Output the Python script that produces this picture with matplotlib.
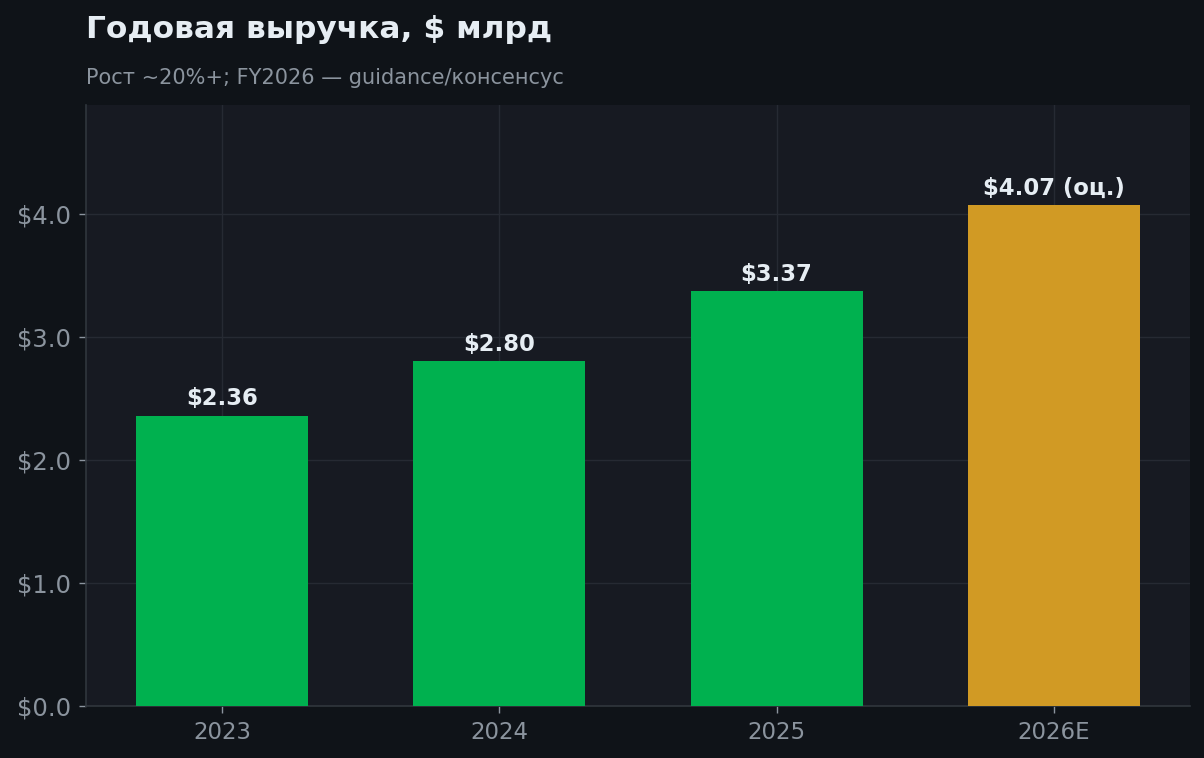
import matplotlib
matplotlib.use("Agg")
import matplotlib.pyplot as plt
from matplotlib.ticker import FuncFormatter, MultipleLocator

categories = ["2023", "2024", "2025", "2026E"]
revenue = [2.36, 2.80, 3.37, 4.07]
labels = ["$2.36", "$2.80", "$3.37", "$4.07 (оц.)"]
colors = ["#00b14f", "#00b14f", "#00b14f", "#d19a24"]

FIG_BG = "#0f1318"
AX_BG = "#171a22"
TEXT = "#e6edf3"
MUTED = "#8b949e"
GRID = "#262a33"
SPINE = "#30363d"

plt.rcParams['font.family'] = ['DejaVu Sans']

fig = plt.figure(figsize=(12.04, 7.58), dpi=100, facecolor=FIG_BG)
ax = fig.add_axes([86/1204, 1 - 706/758, (1190-86)/1204, (706-105)/758])
ax.set_facecolor(AX_BG)

x = range(len(categories))
bars = ax.bar(x, revenue, width=0.62, color=colors, zorder=3)
for b, lab in zip(bars, labels):
    ax.annotate(lab, (b.get_x() + b.get_width()/2, b.get_height()),
                xytext=(0, 4), textcoords="offset points",
                ha="center", va="bottom", color=TEXT,
                fontsize=16.4, fontweight="bold", zorder=4)

ax.set_xticks(list(x))
ax.set_xticklabels(categories)
ax.set_ylim(0, max(revenue) * 1.2)
ax.yaxis.set_major_locator(MultipleLocator(1.0))
ax.yaxis.set_major_formatter(FuncFormatter(lambda v, p: f"${v:.1f}"))

ax.grid(True, color=GRID, linewidth=1.0, zorder=0)
ax.set_axisbelow(True)
for s in ["top", "right"]:
    ax.spines[s].set_visible(False)
for s in ["left", "bottom"]:
    ax.spines[s].set_color(SPINE)
    ax.spines[s].set_linewidth(1.2)
ax.tick_params(colors=MUTED, length=5, width=1, pad=6)
ax.tick_params(axis="x", labelsize=16.5)
ax.tick_params(axis="y", labelsize=17.5)
for t in ax.get_xticklabels() + ax.get_yticklabels():
    t.set_color(MUTED)

fig.text(86/1204, 1 - 38/758, "Годовая выручка, $ млрд", color=TEXT,
         fontsize=22.5, fontweight="bold", ha="left", va="baseline")
fig.text(86/1204, 1 - 84/758, "Рост ~20%+; FY2026 — guidance/консенсус", color=MUTED,
         fontsize=15, ha="left", va="baseline")

fig.savefig("out.png", dpi=100, facecolor=FIG_BG)
